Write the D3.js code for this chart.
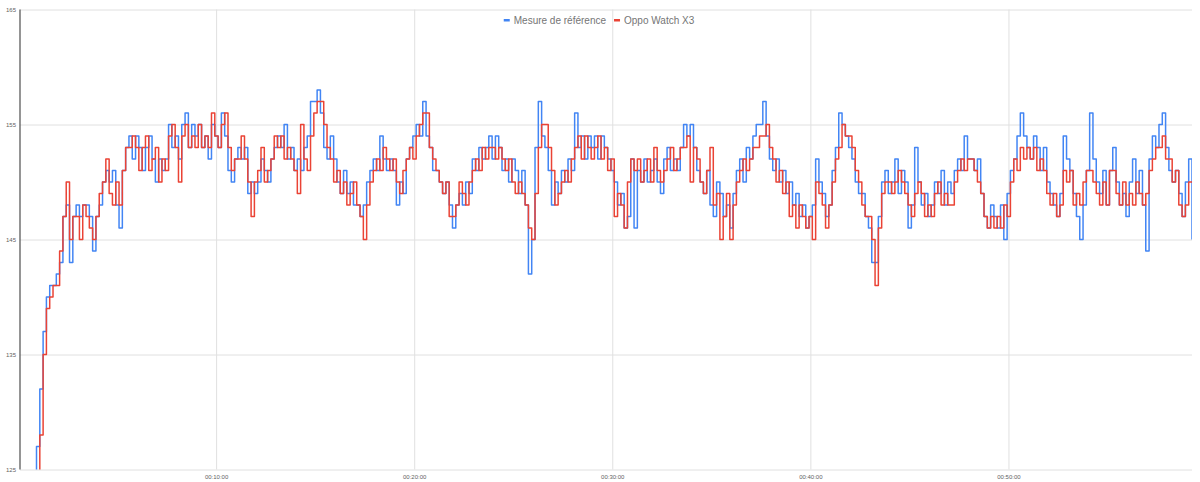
<!DOCTYPE html>
<html>
<head>
<meta charset="utf-8">
<script src="https://cdn.jsdelivr.net/npm/d3@7"></script>
<style>
    html, body { margin: 0; padding: 0; background: #ffffff; }
    svg { display: block; font-family: "Liberation Sans", Arial, sans-serif; }
</style>
</head>
<body>
<div id="chart"></div>
<script>
// one sample every 10 s, first sample at 6 s
const startSec = 6;
const stepSec = 10;

const seriesNames = ["Mesure de référence", "Oppo Watch X3"];
const seriesColors = ["#4285f4", "#ea4335"];

const yTicks = [125, 135, 145, 155, 165];
const xTicks = [600, 1200, 1800, 2400, 3000];
const xTickLabels = ["00:10:00", "00:20:00", "00:30:00", "00:40:00", "00:50:00"];

// Mesure de référence (bpm)
const reference = [
    110,113,116,119,122,127, 132,137,140,141,141,142, 143,147,148,143,147,148,
    147,148,148,147,144,147, 148,150,151,150,151,148, 146,151,153,154,152,154,
    153,151,153,154,152,150, 152,151,152,155,153,154, 152,155,156,153,155,154,
    155,153,154,152,155,154, 153,156,154,151,150,152, 153,152,153,149,150,149,
    150,152,151,150,152,153, 154,153,155,152,153,151, 152,151,153,154,157,157,
    158,156,153,152,154,152, 150,149,151,149,150,148, 148,147,148,150,151,152,
    151,154,152,151,152,151, 148,150,149,152,153,154, 155,154,157,154,153,151,
    151,150,149,150,148,146, 148,149,148,150,149,152, 151,153,152,153,154,152,
    154,153,151,152,150,152, 151,149,151,148,142,145, 153,157,154,153,151,148,
    150,149,151,150,152,151, 156,153,154,152,154,153, 154,152,154,153,152,151,
    150,148,149,146,147,152, 146,151,150,152,150,151, 152,150,149,152,153,151,
    152,151,153,155,154,155, 153,151,150,149,151,148, 147,150,149,147,148,146,
    149,151,152,150,153,152, 154,155,155,157,154,152, 151,152,150,151,149,150,
    148,149,147,148,146,147, 148,152,150,149,147,148, 151,153,156,155,154,153,
    152,150,149,149,147,146, 143,143,147,150,151,149, 150,152,149,151,150,146,
    148,153,150,148,149,147, 148,150,149,151,148,150, 149,151,152,151,154,152,
    152,151,152,149,147,146, 148,147,146,148,145,149, 151,152,154,156,154,153,
    152,154,153,151,153,150, 149,148,147,149,154,152, 151,149,147,145,148,151,
    156,152,150,149,151,148, 151,153,150,148,149,147, 150,152,149,151,148,144,
    152,154,153,155,156,153, 151,150,151,149,147,150, 152,145
];

// Oppo Watch X3 (bpm)
const watch = [
    105,109,113,117,120,123, 128,135,139,140,141,141, 144,147,150,145,147,147,
    145,148,147,146,145,147, 149,150,152,149,148,150, 148,151,153,153,154,153,
    151,153,154,151,152,153, 150,152,151,154,155,153, 150,154,155,153,154,153,
    155,153,154,153,156,154, 153,155,156,153,151,152, 152,154,152,150,147,150,
    151,153,150,151,152,154, 153,154,152,153,152,151, 149,155,152,151,154,156,
    157,157,155,153,152,150, 151,149,150,148,149,150, 148,147,145,148,150,151,
    152,151,153,152,151,152, 150,149,151,152,153,152, 154,155,156,156,153,152,
    151,150,149,150,147,147, 148,150,149,148,150,151, 152,151,153,152,153,153,
    152,153,152,151,152,150, 149,150,149,148,146,145, 149,153,155,155,153,151,
    148,149,150,151,150,152, 153,154,152,154,153,152, 153,154,152,153,151,152,
    147,149,148,146,150,152, 151,152,150,151,152,150, 153,151,150,151,152,153,
    151,152,153,153,154,150, 153,152,150,149,151,153, 148,149,145,147,149,145,
    148,150,151,152,151,152, 153,153,154,154,155,153, 152,150,151,149,150,147,
    148,146,148,147,146,147, 145,150,149,148,146,148, 150,152,153,155,154,154,
    153,151,150,148,147,147, 145,141,146,149,150,150, 149,150,151,150,149,148,
    147,149,150,149,147,148, 147,149,150,148,149,148, 148,150,151,152,151,152,
    152,151,150,149,147,146, 147,146,147,146,148,147, 150,152,151,153,152,153,
    152,153,151,152,151,149, 148,149,147,148,151,150, 151,148,149,148,150,151,
    151,150,149,148,150,148, 151,151,149,148,150,148, 149,148,150,149,148,149,
    151,152,153,153,154,152, 152,150,151,148,147,148, 150,150
];

const width = 1200, height = 482;
const plot = { left: 20, right: 1192, top: 9.5, bottom: 469.5 };

function formatDuration(sec) {
    return xTickLabels[xTicks.indexOf(sec)];
}

const series = [reference, watch].map((values, k) => ({
    name: seriesNames[k],
    color: seriesColors[k],
    points: values.map((v, i) => [startSec + i * stepSec, v])
}));

const lastSec = startSec + (reference.length - 1) * stepSec;

const x = d3.scaleLinear()
    .domain([startSec, lastSec])
    .range([plot.left, plot.right]);

const y = d3.scaleLinear()
    .domain([yTicks[0], yTicks[yTicks.length - 1]])
    .range([plot.bottom, plot.top]);

const svg = d3.select("#chart")
    .append("svg")
    .attr("width", width)
    .attr("height", height)
    .attr("viewBox", `0 0 ${width} ${height}`);

svg.append("defs")
    .append("clipPath")
    .attr("id", "plot-clip")
    .append("rect")
    .attr("x", plot.left)
    .attr("y", plot.top)
    .attr("width", plot.right - plot.left)
    .attr("height", plot.bottom - plot.top);

// horizontal grid + y labels
svg.append("g")
    .attr("transform", `translate(${plot.left},0)`)
    .call(d3.axisLeft(y).tickValues(yTicks).tickSize(-(plot.right - plot.left)).tickPadding(4))
    .call(g => g.select(".domain").remove())
    .call(g => g.selectAll(".tick line").attr("stroke", "#e0e0e0"))
    .call(g => g.selectAll(".tick text")
        .attr("fill", "#5f5f5f")
        .style("font-size", "6px")
        .style("font-family", "'Liberation Sans', Arial, sans-serif"));

// vertical grid + x labels
svg.append("g")
    .attr("transform", `translate(0,${plot.bottom})`)
    .call(d3.axisBottom(x).tickValues(xTicks).tickFormat(formatDuration)
        .tickSize(-(plot.bottom - plot.top)).tickPadding(5))
    .call(g => g.select(".domain").remove())
    .call(g => g.selectAll(".tick line").attr("stroke", "#e0e0e0"))
    .call(g => g.selectAll(".tick text")
        .attr("fill", "#5f5f5f")
        .style("font-size", "6px")
        .style("font-family", "'Liberation Sans', Arial, sans-serif"));

// left axis line
svg.append("line")
    .attr("x1", plot.left).attr("x2", plot.left)
    .attr("y1", plot.top).attr("y2", plot.bottom)
    .attr("stroke", "#4d4d4d")
    .attr("stroke-width", 1.2);

// heart rate is read as integer steps
const line = d3.line()
    .curve(d3.curveStepAfter)
    .x(d => x(d[0]))
    .y(d => y(d[1]));

svg.append("g")
    .attr("clip-path", "url(#plot-clip)")
    .selectAll("path.series")
    .data(series)
    .enter().append("path")
    .classed("series", true)
    .attr("d", d => line(d.points))
    .attr("fill", "none")
    .attr("stroke", d => d.color)
    .attr("stroke-width", 1.5)
    .attr("stroke-linejoin", "round");

// legend, centred above the plot
const legend = svg.append("g").attr("transform", "translate(0,24)");
const items = legend.selectAll("g.item")
    .data(series)
    .enter().append("g")
    .classed("item", true);

items.append("rect")
    .attr("x", 0).attr("y", -5)
    .attr("width", 6).attr("height", 2.5)
    .attr("fill", d => d.color);

items.append("text")
    .attr("x", 10)
    .attr("fill", "#757575")
    .style("font-size", "10px")
    .text(d => d.name);

let offset = 0;
const widths = [];
items.each(function () {
    const w = 10 + this.querySelector("text").getComputedTextLength();
    widths.push(w);
});
const total = d3.sum(widths) + 8 * (widths.length - 1);
const legendLeft = 599 - total / 2;
items.attr("transform", (d, i) => {
    const tx = legendLeft + offset;
    offset += widths[i] + 8;
    return `translate(${tx},0)`;
});
</script>
</body>
</html>
